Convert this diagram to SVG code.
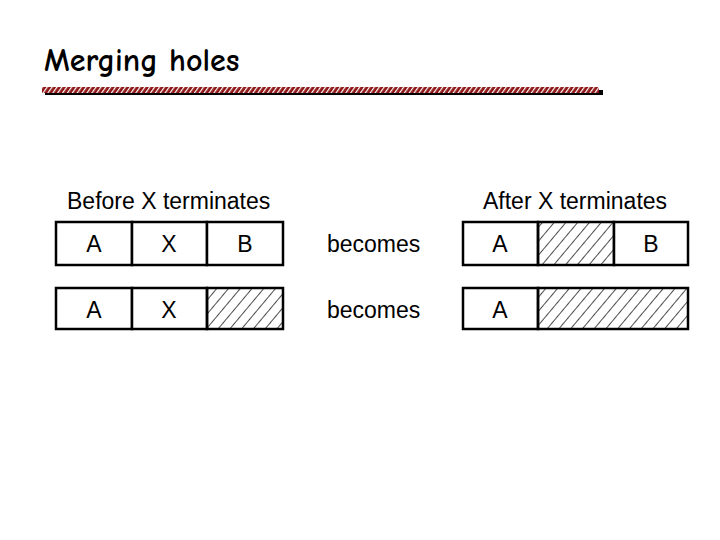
<svg xmlns="http://www.w3.org/2000/svg" width="720" height="540" viewBox="0 0 720 540">
<defs>
<pattern id="hatch" patternUnits="userSpaceOnUse" width="9" height="9" patternTransform="rotate(40)">
<line x1="0" y1="0" x2="0" y2="9" stroke="#000" stroke-width="1.4"/>
</pattern>
<pattern id="barhatch" patternUnits="userSpaceOnUse" width="4" height="8" patternTransform="rotate(35)">
<rect width="4" height="8" fill="#8e1616"/>
<rect width="1.2" height="8" fill="#fff"/>
</pattern>
<style>
.box{fill:#fff;stroke:#000;stroke-width:2.5}
.hole{fill:url(#hatch);stroke:#000;stroke-width:2.5}
.lbl{font-family:"Liberation Sans",Arial,sans-serif;font-size:23px;fill:#000}
.mid{text-anchor:middle}
</style>
</defs>
<rect width="720" height="540" fill="#fff"/>
<text x="44" y="71" font-family="'Comic Sans MS','Comic Neue','DejaVu Sans',sans-serif" font-size="32" font-weight="bold" fill="#000">Merging holes</text>
<rect x="45" y="90" width="558" height="5" fill="#000"/>
<rect x="42" y="87" width="557" height="6" fill="url(#barhatch)"/>
<text class="lbl" x="67" y="209">Before X terminates</text>
<text class="lbl" x="483" y="209">After X terminates</text>
<g id="before1">
<rect class="box" x="56" y="222" width="76" height="43"/>
<rect class="box" x="132" y="222" width="75" height="43"/>
<rect class="box" x="207" y="222" width="76" height="43"/>
<text class="lbl mid" x="94" y="252">A</text>
<text class="lbl mid" x="169" y="252">X</text>
<text class="lbl mid" x="245" y="252">B</text>
</g>
<g id="before2">
<rect class="box" x="56" y="288" width="76" height="41"/>
<rect class="box" x="132" y="288" width="75" height="41"/>
<rect class="hole" x="207" y="288" width="76" height="41"/>
<text class="lbl mid" x="94" y="318">A</text>
<text class="lbl mid" x="169" y="318">X</text>
</g>
<g id="becomes">
<text class="lbl" x="327" y="252">becomes</text>
<text class="lbl" x="327" y="318">becomes</text>
</g>
<g id="after1">
<rect class="box" x="463" y="222" width="75" height="43"/>
<rect class="hole" x="538" y="222" width="76" height="43"/>
<rect class="box" x="614" y="222" width="74" height="43"/>
<text class="lbl mid" x="500" y="252">A</text>
<text class="lbl mid" x="651" y="252">B</text>
</g>
<g id="after2">
<rect class="box" x="463" y="288" width="75" height="41"/>
<rect class="hole" x="538" y="288" width="150" height="41"/>
<text class="lbl mid" x="500" y="318">A</text>
</g>
<g id="connectors"></g>
</svg>
